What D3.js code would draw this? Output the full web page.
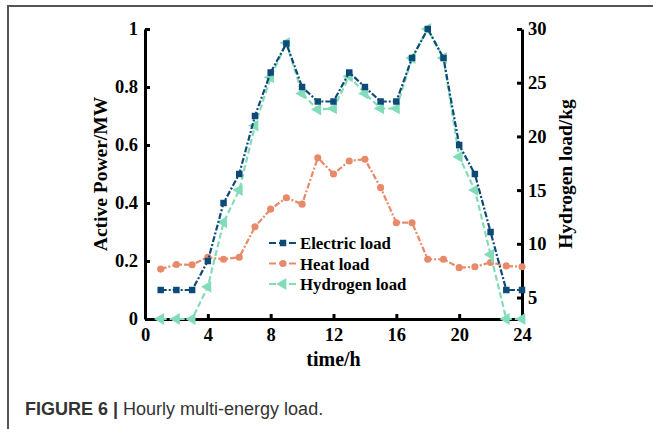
<!DOCTYPE html>
<html>
<head>
<meta charset="utf-8">
<script src="https://cdn.jsdelivr.net/npm/d3@7"></script>
<style>
  body { margin: 0; background: #fff; }
  svg { display: block; }
</style>
</head>
<body>
<script>
// hourly data
const hours = d3.range(1, 25)
const electric = [0.1, 0.1, 0.1, 0.2, 0.4, 0.5, 0.7, 0.85, 0.95, 0.8, 0.75, 0.75,
  0.85, 0.8, 0.75, 0.75, 0.9, 1.0, 0.9, 0.6, 0.5, 0.3, 0.1, 0.1]
const heat = [0.172, 0.188, 0.187, 0.213, 0.206, 0.213, 0.318, 0.379, 0.418, 0.396, 0.556, 0.5,
  0.545, 0.551, 0.453, 0.332, 0.332, 0.206, 0.206, 0.177, 0.18, 0.195, 0.183, 0.18]
const hydrogen = [3, 3, 3, 6, 12, 15, 21, 25.5, 28.7, 24, 22.5, 22.6,
  25.6, 24, 22.6, 22.6, 27.3, 30, 27.3, 18.1, 15, 9, 3, 3]
const xTicks = [0, 4, 8, 12, 16, 20, 24]
const yTicks = [0, 0.2, 0.4, 0.6, 0.8, 1]
const y2Ticks = [5, 10, 15, 20, 25, 30]

const W = 653, H = 429
const pLeft = 145, pRight = 522, pTop = 29, pBottom = 319
const serif = "'Liberation Serif','Times New Roman',serif"

const svg = d3.select("body").append("svg").attr("width", W).attr("height", H)

// figure frame (top + left edge)
svg.append("path").attr("d", `M8,${H} V6 H${W}`)
  .attr("fill", "none").attr("stroke", "#555").attr("stroke-width", 2)

const x = d3.scaleLinear().domain([0, 24]).range([pLeft, pRight])
const y = d3.scaleLinear().domain([0, 1]).range([pBottom, pTop])
const y2 = d3.scaleLinear().domain([3, 30]).range([pBottom, pTop])

function styleAxis(g){
  g.select(".domain").attr("stroke", "#000").attr("stroke-width", 3)
  g.selectAll(".tick line").attr("stroke", "#000").attr("stroke-width", 3)
  g.selectAll(".tick text").attr("font-family", serif).attr("font-weight", "bold")
    .attr("font-size", 18.5).attr("fill", "#000")
}

svg.append("g").attr("transform", `translate(0,${pBottom})`)
  .call(d3.axisBottom(x).tickValues(xTicks).tickSizeInner(-5).tickSizeOuter(0).tickPadding(9))
  .call(styleAxis)
svg.append("g").attr("transform", `translate(${pLeft},0)`)
  .call(d3.axisLeft(y).tickValues(yTicks).tickFormat(d3.format("~g")).tickSizeInner(-5).tickSizeOuter(0).tickPadding(7))
  .call(styleAxis)
svg.append("g").attr("transform", `translate(${pRight},0)`)
  .call(d3.axisRight(y2).tickValues(y2Ticks).tickSizeInner(-5).tickSizeOuter(0).tickPadding(6))
  .call(styleAxis)

// axis titles
svg.append("text").attr("x", (pLeft + pRight) / 2).attr("y", 366)
  .attr("text-anchor", "middle").attr("font-family", serif).attr("font-weight", "bold")
  .attr("font-size", 20).text("time/h")
svg.append("text").attr("transform", `translate(107,174) rotate(-90)`)
  .attr("text-anchor", "middle").attr("font-family", serif).attr("font-weight", "bold")
  .attr("font-size", 19.5).text("Active Power/MW")
svg.append("text").attr("transform", `translate(572,174) rotate(-90)`)
  .attr("text-anchor", "middle").attr("font-family", serif).attr("font-weight", "bold")
  .attr("font-size", 19.5).text("Hydrogen load/kg")

const series = [
  {name: "Electric load", vals: electric, sc: y, color: "#0e4a78", dash: "6,2,2,2", sym: d3.symbolSquare, size: 42, rot: 0},
  {name: "Heat load", vals: heat, sc: y, color: "#e8896a", dash: "6,2,2,2", sym: d3.symbolCircle, size: 40, rot: 0},
  {name: "Hydrogen load", vals: hydrogen, sc: y2, color: "#82dcb9", dash: "6,3", sym: d3.symbolTriangle, size: 60, rot: -90}
]

const plot = svg.append("g")
for (const s of [series[1], series[2], series[0]]) {
  const line = d3.line().x((d, i) => x(hours[i])).y(d => s.sc(d))
  plot.append("path").datum(s.vals).attr("d", line)
    .attr("fill", "none").attr("stroke", s.color).attr("stroke-width", 2.2)
    .attr("stroke-dasharray", s.dash)
  plot.selectAll(null).data(s.vals).join("path")
    .attr("d", d3.symbol(s.sym, s.size))
    .attr("transform", (d, i) => `translate(${x(hours[i])},${s.sc(d)}) rotate(${s.rot})`)
    .attr("fill", s.color)
}

// legend
const leg = svg.append("g")
series.forEach((s, i) => {
  const ly = 243 + i * 20.5
  leg.append("line").attr("x1", 269).attr("x2", 297).attr("y1", ly).attr("y2", ly)
    .attr("stroke", s.color).attr("stroke-width", 2.2).attr("stroke-dasharray", "7,3")
  leg.append("path").attr("d", d3.symbol(s.sym, s.size))
    .attr("transform", `translate(283,${ly}) rotate(${s.rot})`).attr("fill", s.color)
  leg.append("text").attr("x", 300).attr("y", ly + 6)
    .attr("font-family", serif).attr("font-weight", "bold").attr("font-size", 16.8)
    .text(s.name)
})

// caption
const cap = svg.append("text").attr("x", 25).attr("y", 415)
  .attr("font-family", "'Liberation Sans',Arial,sans-serif").attr("font-size", 18).attr("fill", "#333")
cap.append("tspan").attr("font-weight", "bold").text("FIGURE 6 | ")
cap.append("tspan").text("Hourly multi-energy load.")
</script>
</body>
</html>
